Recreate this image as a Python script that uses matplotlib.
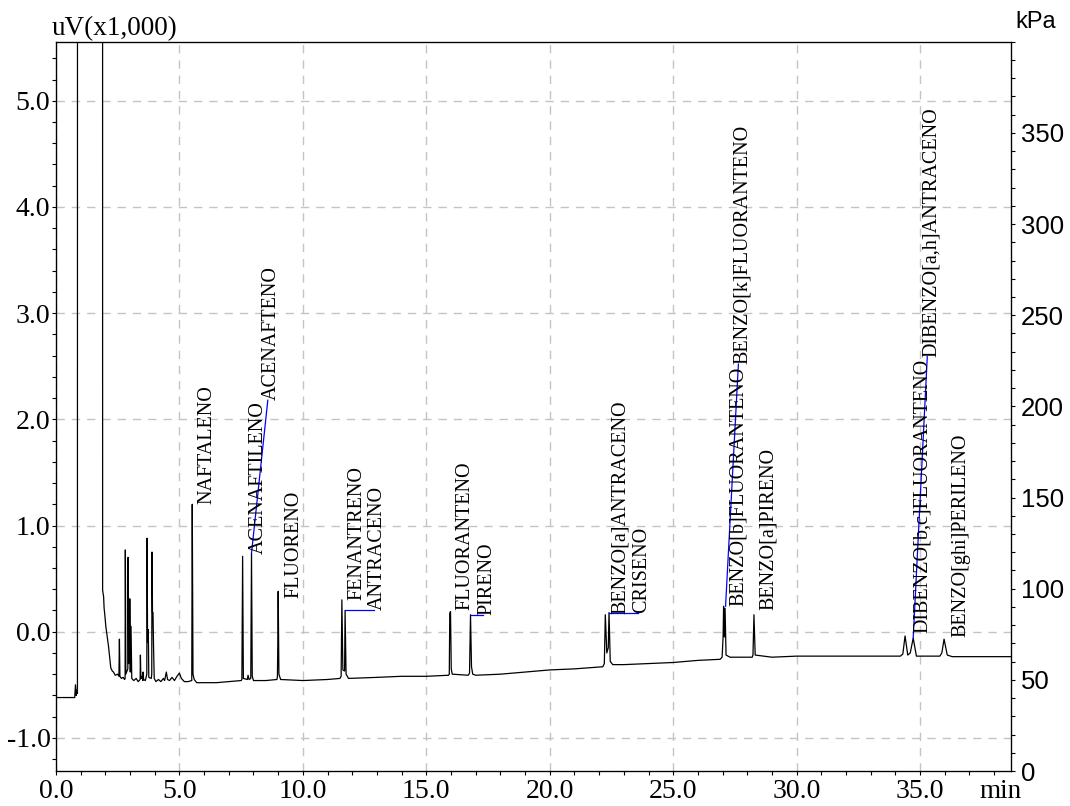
import matplotlib
matplotlib.use('Agg')
import matplotlib.pyplot as plt
from matplotlib.ticker import MultipleLocator, FormatStrFormatter

# detector trace, retention time (min) vs signal (uV x1000)
trace_t = [
    0.00, 0.76, 0.79, 0.82, 0.85, 0.87, 0.88,
    1.88, 1.89, 1.93, 1.95, 1.97, 2.02, 2.08, 2.13, 2.18, 2.22, 2.28, 2.33, 2.40, 2.50,
    2.55, 2.57, 2.59, 2.65, 2.72, 2.78,
    2.80, 2.81, 2.83, 2.91, 2.92, 2.94, 2.98, 2.99, 3.01, 3.04, 3.07, 3.15, 3.25, 3.33,
    3.41, 3.42, 3.44, 3.48, 3.52, 3.53, 3.55, 3.62,
    3.68, 3.69, 3.71, 3.74, 3.76, 3.86, 3.88, 3.89, 3.91, 3.93, 3.95, 3.98,
    4.05, 4.15, 4.25, 4.35, 4.40, 4.47, 4.52, 4.60, 4.70, 4.80, 4.90, 5.00, 5.08, 5.20, 5.35,
    5.50, 5.52, 5.55, 5.60, 5.70, 6.50, 7.00, 7.50,
    7.53, 7.56, 7.59, 7.75, 7.78, 7.82, 7.89, 7.92, 7.95, 8.00, 8.50, 8.95,
    8.97, 8.99, 9.00, 9.03, 9.10, 10.00, 11.00, 11.50,
    11.55, 11.58, 11.62, 11.69, 11.71, 11.75, 11.85, 13.00, 14.00, 15.00, 15.90,
    15.93, 15.95, 15.98, 16.01, 16.05, 16.70,
    16.75, 16.79, 16.83, 16.88, 17.00, 18.00, 19.00, 20.00, 21.00, 22.15,
    22.21, 22.25, 22.31, 22.37, 22.40, 22.45, 22.55, 23.00, 24.00, 25.00, 26.00, 26.90,
    26.98, 27.02, 27.04, 27.07, 27.10, 27.14, 27.30, 28.20,
    28.23, 28.27, 28.32, 29.00, 30.00, 31.00, 32.00, 33.00, 34.20,
    34.30, 34.39, 34.50, 34.60, 34.72, 34.85, 35.80,
    35.88, 35.97, 36.10, 36.30, 37.00, 38.00, 38.70,
]
trace_uv = [
    -0.62, -0.62, -0.50, -0.60, -0.55, -0.58, 40.0,
    40.0, 0.39, 0.33, 0.22, 0.18, 0.05, -0.05, -0.14, -0.25, -0.34, -0.37, -0.38, -0.41, -0.40,
    -0.42, -0.07, -0.42, -0.44, -0.43, -0.45,
    -0.44, 0.77, -0.40, -0.35, 0.70, -0.30, -0.25, 0.31, -0.38, 0.05, -0.44, -0.46, -0.44, -0.47,
    -0.45, -0.22, -0.44, -0.42, -0.46, -0.38, -0.45, -0.46,
    -0.40, 0.88, -0.10, 0.02, -0.43, -0.44, -0.40, 0.75, 0.18, 0.18, -0.11, -0.44,
    -0.47, -0.45, -0.47, -0.44, -0.46, -0.38, -0.45, -0.46, -0.43, -0.46, -0.42, -0.39, -0.44, -0.47, -0.47,
    -0.46, 1.20, -0.40, -0.45, -0.48, -0.48, -0.47, -0.46,
    -0.45, 0.71, -0.44, -0.45, -0.41, -0.45, -0.44, 0.74, -0.42, -0.46, -0.46, -0.45,
    -0.42, 0.00, 0.38, -0.40, -0.45, -0.46, -0.45, -0.44,
    -0.42, 0.30, -0.36, -0.37, 0.20, -0.40, -0.44, -0.43, -0.42, -0.42, -0.41,
    -0.40, 0.17, 0.19, -0.35, -0.40, -0.41,
    -0.39, 0.16, -0.33, -0.40, -0.41, -0.40, -0.38, -0.36, -0.35, -0.33,
    -0.30, 0.16, -0.20, -0.15, 0.18, -0.28, -0.31, -0.31, -0.30, -0.29, -0.27, -0.26,
    -0.24, -0.05, 0.24, -0.05, 0.22, -0.22, -0.24, -0.24,
    -0.22, 0.16, -0.22, -0.24, -0.23, -0.23, -0.23, -0.23, -0.23,
    -0.21, -0.04, -0.22, -0.20, -0.06, -0.23, -0.23,
    -0.20, -0.07, -0.22, -0.235, -0.235, -0.235, -0.235,
]

# identified compounds and the peak apex each name belongs to
names = ['NAFTALENO', 'ACENAFTILENO', 'ACENAFTENO', 'FLUORENO', 'FENANTRENO',
         'ANTRACENO', 'FLUORANTENO', 'PIRENO', 'BENZO[a]ANTRACENO', 'CRISENO',
         'BENZO[b]FLUORANTENO', 'BENZO[k]FLUORANTENO', 'BENZO[a]PIRENO',
         'DIBENZO[b,c]FLUORANTENO', 'DIBENZO[a,h]ANTRACENO', 'BENZO[ghi]PERILENO']
peak_t = [5.52, 7.92, 7.92, 9.00, 11.58, 11.71, 15.97, 16.79, 22.25, 22.40,
          27.04, 27.12, 28.27, 34.72, 34.72, 35.97]
peak_uv = [1.20, 0.74, 0.74, 0.38, 0.30, 0.20, 0.19, 0.16, 0.16, 0.18,
           0.24, 0.24, 0.16, -0.06, -0.06, -0.07]

# where each name is written (bottom of the vertical text); True = pulled off with a leader
label_spot = [(6.05, 1.20, False), (8.13, 0.73, False), (8.65, 2.18, True),
              (9.56, 0.32, False), (12.10, 0.30, False), (12.94, 0.20, True),
              (16.48, 0.20, False), (17.36, 0.16, True), (22.80, 0.17, False),
              (23.64, 0.18, True), (27.56, 0.24, False), (27.71, 2.52, True),
              (28.79, 0.20, False), (35.00, -0.01, False), (35.36, 2.59, True),
              (36.58, -0.05, False)]

serif = 'Liberation Serif'
sans = 'Liberation Sans'
plt.rcParams['font.family'] = serif

fig = plt.figure(figsize=(10.7, 8.06), dpi=100)
ax = fig.add_axes([0.0523, 0.0434, 0.8930, 0.9048])

ax.plot(trace_t, trace_uv, color='black', lw=0.9, zorder=3)

for name, pt, pu, (lt, lu, moved) in zip(names, peak_t, peak_uv, label_spot):
    if moved:
        ax.plot([pt, lt - 0.07], [pu, lu], color='#0000ff', lw=0.9, zorder=4)
    ax.text(lt + 0.08, lu, name, rotation=90, ha='center', va='bottom',
            fontsize=14.5, family=serif, zorder=5)

ax.set_xlim(0, 38.7)
ax.set_ylim(-1.312, 5.556)
ax.xaxis.set_major_locator(MultipleLocator(5))
ax.xaxis.set_minor_locator(MultipleLocator(1))
ax.yaxis.set_major_locator(MultipleLocator(1))
ax.yaxis.set_minor_locator(MultipleLocator(0.2))
ax.xaxis.set_major_formatter(FormatStrFormatter('%.1f'))
ax.yaxis.set_major_formatter(FormatStrFormatter('%.1f'))
ax.set_xticks([0, 5, 10, 15, 20, 25, 30, 35])
ax.grid(True, which='major', color='#c4c4c4', lw=1.0, dashes=(6, 5))
ax.set_axisbelow(True)
ax.tick_params(axis='both', which='both', direction='out', length=3, width=0.8)
ax.tick_params(axis='x', which='major', labelsize=20, pad=3)
ax.tick_params(axis='y', which='major', labelsize=20, pad=1)
for s in ax.spines.values():
    s.set_linewidth(0.9)

# pressure axis on the right
ax2 = ax.twinx()
ax2.set_ylim(0, 400)
ax2.set_yticks(range(0, 351, 50))
ax2.yaxis.set_minor_locator(MultipleLocator(10))
ax2.tick_params(axis='y', which='both', direction='out', length=3, width=0.8)
ax2.tick_params(axis='y', which='major', labelsize=18.5, pad=4)
for lab in ax2.get_yticklabels():
    lab.set_family(sans)

fig.text(0.0483, 0.9566, 'uV(x1,000)', fontsize=19.5, family=serif, va='baseline')
fig.text(0.9486, 0.9650, 'kPa', fontsize=17, family=sans, va='baseline')
fig.text(0.9155, 0.0095, 'min', fontsize=19.5, family=serif, va='baseline')

fig.savefig('out.png', dpi=100)
